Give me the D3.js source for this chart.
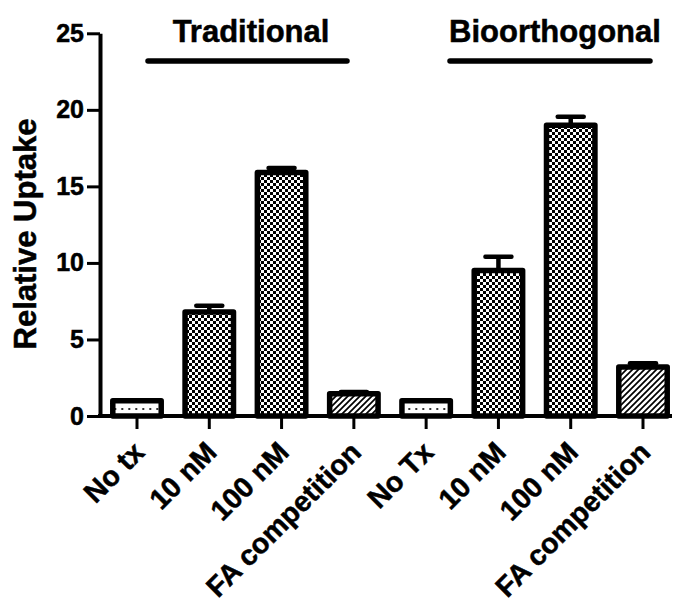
<!DOCTYPE html>
<html><head><meta charset="utf-8">
<script src="https://cdn.jsdelivr.net/npm/d3@7"></script>
<style>
html,body{margin:0;padding:0;background:#fff;}
text{font-family:"Liberation Sans",Arial,sans-serif;font-weight:bold;fill:#000;stroke:#000;stroke-width:0.5px;}
</style></head>
<body>
<svg id="chart" width="674" height="605"></svg>
<script>
// ---- data ----
const categories = ["No tx","10 nM","100 nM","FA competition","No Tx","10 nM","100 nM","FA competition"];
const values = [1.0, 6.8, 15.9, 1.45, 1.0, 9.5, 19.0, 3.2];
const errors = [0.02, 0.4, 0.3, 0.12, 0.02, 0.9, 0.55, 0.25];
const groups = ["Traditional","Bioorthogonal"];
const yTicks = [0, 5, 10, 15, 20, 25];
const yLabel = "Relative Uptake";

// ---- layout ----
const svg = d3.select("#chart");
const axisX = 100, y0 = 416, yTop = 33.3;
const y = d3.scaleLinear().domain([0, 25]).range([y0, yTop]);
const x = d3.scaleBand().domain(d3.range(categories.length)).range([101, 679]).paddingInner(0.33).paddingOuter(0.163);

// ---- patterns ----
const defs = svg.append("defs");
const pd = defs.append("pattern").attr("id","dots").attr("patternUnits","userSpaceOnUse")
  .attr("width",7).attr("height",10);
pd.append("rect").attr("width",7).attr("height",10).attr("fill","#fff");
pd.append("rect").attr("x",2.3).attr("y",8).attr("width",2).attr("height",2).attr("fill","#333");

const pc = defs.append("pattern").attr("id","check").attr("patternUnits","userSpaceOnUse")
  .attr("width",6).attr("height",6);
pc.append("rect").attr("width",6).attr("height",6).attr("fill","#fff");
pc.append("rect").attr("x",0).attr("y",0).attr("width",3).attr("height",3).attr("fill","#000");
pc.append("rect").attr("x",3).attr("y",3).attr("width",3).attr("height",3).attr("fill","#000");

const ph = defs.append("pattern").attr("id","hatch").attr("patternUnits","userSpaceOnUse")
  .attr("width",6).attr("height",6);
ph.append("rect").attr("width",6).attr("height",6).attr("fill","#fff");
ph.append("path").attr("d","M0,6 L6,0 M-1,1 L1,-1 M5,7 L7,5").attr("stroke","#000").attr("stroke-width",1.7);

function fillFor(i){
  const k = i % 4;
  return k === 0 ? "url(#dots)" : (k === 3 ? "url(#hatch)" : "url(#check)");
}

// ---- bars ----
const bw = x.bandwidth();
svg.append("g").selectAll("rect").data(values).join("rect")
  .attr("x",(d,i)=>x(i)).attr("width",bw)
  .attr("y",d=>y(d)).attr("height",d=>y0-y(d))
  .attr("fill",(d,i)=>fillFor(i))
  .attr("stroke","#000").attr("stroke-width",5.5).attr("stroke-linejoin","round");

// ---- error bars ----
const eg = svg.append("g").attr("stroke","#000").attr("stroke-width",4.5);
values.forEach((v,i)=>{
  const cx = x(i)+bw/2;
  eg.append("line").attr("x1",cx).attr("x2",cx).attr("y1",y(v)).attr("y2",y(v+errors[i]));
  eg.append("line").attr("x1",cx-13).attr("x2",cx+13).attr("y1",y(v+errors[i])).attr("y2",y(v+errors[i]))
    .attr("stroke-linecap","round");
});

// ---- y axis ----
const ya = svg.append("g").attr("transform",`translate(${axisX},0)`)
  .call(d3.axisLeft(y).tickValues(yTicks).tickSize(13).tickSizeOuter(0).tickPadding(3));
ya.select(".domain").attr("stroke","#000").attr("stroke-width",4);
ya.selectAll(".tick line").attr("stroke","#000").attr("stroke-width",3);
ya.selectAll(".tick text").attr("font-size",25).attr("font-family","Liberation Sans, Arial, sans-serif")
  .attr("font-weight","bold").attr("fill","#000");

// ---- x axis ----
svg.append("line").attr("x1",axisX-2).attr("x2",672).attr("y1",y0).attr("y2",y0)
  .attr("stroke","#000").attr("stroke-width",4);
const xa = svg.append("g").attr("transform",`translate(0,${y0})`)
  .call(d3.axisBottom(x).tickSize(13).tickFormat(()=>""));
xa.select(".domain").remove();
xa.selectAll(".tick line").attr("stroke","#000").attr("stroke-width",3);

svg.append("g").selectAll("text").data(categories).join("text")
  .attr("transform",(d,i)=>`translate(${x(i)+bw/2+9},${y0+38}) rotate(-45)`)
  .attr("text-anchor","end").attr("font-size",28.5).text(d=>d);

// ---- y label ----
svg.append("text").attr("transform",`translate(36,234) rotate(-90)`)
  .attr("text-anchor","middle").attr("font-size",31).text(yLabel);

// ---- group titles ----
const titleLines = [[148,347],[450,650]];
groups.forEach((g,j)=>{
  const [a,b] = titleLines[j];
  svg.append("line").attr("x1",a).attr("x2",b).attr("y1",61).attr("y2",61)
    .attr("stroke","#000").attr("stroke-width",5.5).attr("stroke-linecap","round");
  svg.append("text").attr("x",j===0?251:555).attr("y",42).attr("text-anchor","middle")
    .attr("font-size",31).text(g);
});
</script>
</body></html>
